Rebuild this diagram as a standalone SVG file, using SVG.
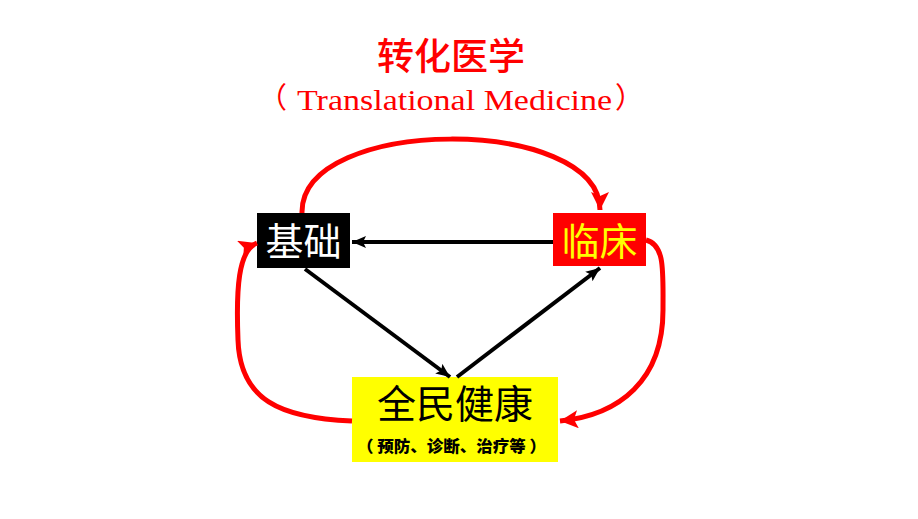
<svg xmlns="http://www.w3.org/2000/svg" width="918" height="519" viewBox="0 0 918 519">
<style>
.cjk{font-family:"Noto Sans CJK SC","Noto Sans",sans-serif;}
.ser{font-family:"Liberation Serif","Noto Sans CJK SC",serif;}
.red{fill:none;stroke:#ff0000;stroke-width:5;}
.blk{fill:none;stroke:#000000;stroke-width:4;}
</style>
<defs>
<marker id="ar" markerUnits="userSpaceOnUse" markerWidth="22" markerHeight="20" refX="18" refY="9" orient="auto">
<path d="M0,0 L18,9 L0,18 L4,9 Z" fill="#ff0000"/>
</marker>
<marker id="ab" markerUnits="userSpaceOnUse" markerWidth="16" markerHeight="14" refX="14" refY="6" orient="auto">
<path d="M0,0 L14,6 L0,12 L3,6 Z" fill="#000000"/>
</marker>
</defs>
<rect width="918" height="519" fill="#ffffff"/>
<g id="title">
<text class="cjk" x="451" y="70" font-size="37" font-weight="500" fill="#ff0000" text-anchor="middle">转化医学</text>
<text class="cjk" x="258" y="108" font-size="29" fill="#ff0000">（</text>
<text class="ser" x="297" y="110" font-size="29" fill="#ff0000" textLength="315" lengthAdjust="spacingAndGlyphs">Translational Medicine</text>
<text class="cjk" x="615" y="108" font-size="29" fill="#ff0000">）</text>
</g>
<g id="node-jichu">
<rect x="257" y="213" width="93" height="55" fill="#000000"/>
<text class="cjk" x="303.5" y="255" font-size="38" fill="#ffffff" text-anchor="middle">基础</text>
</g>
<g id="node-linchuang">
<rect x="553" y="213" width="93" height="53" fill="#ff0000"/>
<text class="cjk" x="599.5" y="255" font-size="38" fill="#ffff00" text-anchor="middle">临床</text>
</g>
<g id="node-health">
<rect x="352" y="377" width="206" height="85" fill="#ffff00"/>
<text class="cjk" x="455" y="418" font-size="39" fill="#000000" text-anchor="middle">全民健康</text>
<text class="cjk" x="357" y="452" font-size="16" font-weight="900" fill="#000000" textLength="189" lengthAdjust="spacingAndGlyphs">（ 预防、诊断、治疗等 ）</text>
</g>
<g id="connectors">
<path class="red" d="M302,213 C300,115 600,115 600,210" marker-end="url(#ar)"/>
<path class="red" d="M352,421 C280,418 240,400 238,340 C236,290 238,250 257,243" marker-end="url(#ar)"/>
<path class="red" d="M646,240 C665,245 663,270 663,310 C663,380 620,415 560,421" marker-end="url(#ar)"/>
<path class="blk" d="M553,242 L352,242" marker-end="url(#ab)"/>
<path class="blk" d="M305,269 L450,377" marker-end="url(#ab)"/>
<path class="blk" d="M457,377 L600,268" marker-end="url(#ab)"/>
</g>
</svg>
